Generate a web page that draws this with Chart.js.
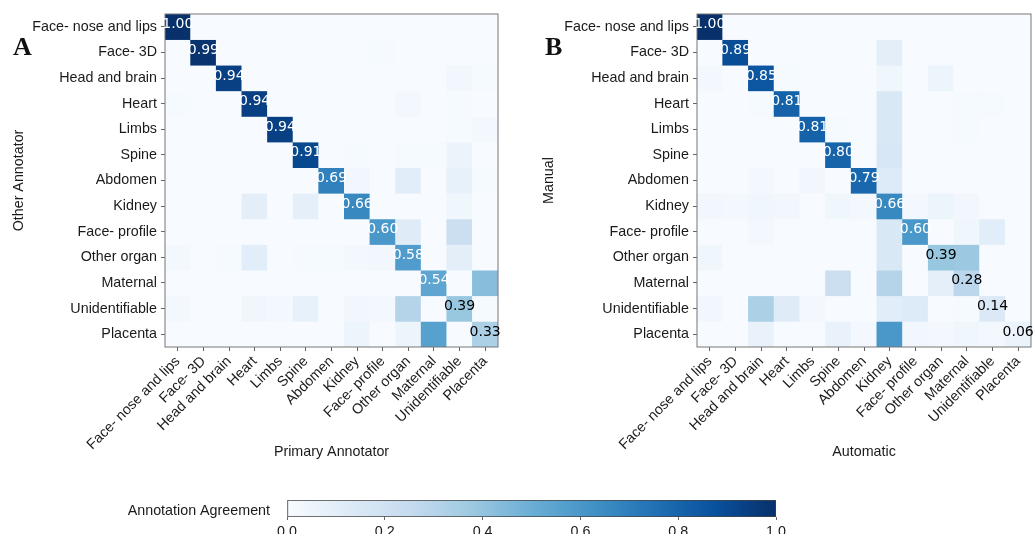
<!DOCTYPE html>
<html>
<head>
<meta charset="utf-8">
<script src="https://cdn.jsdelivr.net/npm/chart.js@4.4.1/dist/chart.umd.min.js"></script>
<style>
  body { margin: 0; background: #fff; width: 1033px; height: 534px; overflow: hidden; position: relative; }
  .panel { position: absolute; }
  .letter { position: absolute; font-family: "Liberation Serif", "Times New Roman", serif; font-weight: bold; font-size: 26px; line-height: 26px; color: #111; }
</style>
</head>
<body>
<div class="panel" style="left:0;top:0"><canvas id="chartA" width="515" height="470"></canvas></div>
<div class="panel" style="left:530px;top:0"><canvas id="chartB" width="503" height="470"></canvas></div>
<div class="panel" style="left:100px;top:490px"><canvas id="colorbar" width="700" height="44"></canvas></div>
<div class="letter" style="left:13px;top:34px">A</div>
<div class="letter" style="left:545px;top:34px">B</div>

<script>
// categories (same for rows and columns)
var LABELS = ['Face- nose and lips', 'Face- 3D', 'Head and brain', 'Heart', 'Limbs', 'Spine',
    'Abdomen', 'Kidney', 'Face- profile', 'Other organ', 'Maternal', 'Unidentifiable', 'Placenta'];

// A: rows = Other Annotator, columns = Primary Annotator
var matrixA = [
    [1.00, 0, 0, 0, 0, 0, 0, 0, 0, 0, 0, 0, 0],
    [0, 0.99, 0, 0, 0, 0, 0, 0, 0.01, 0, 0, 0, 0],
    [0, 0, 0.94, 0, 0, 0, 0, 0, 0, 0, 0, 0.03, 0.01],
    [0.01, 0, 0, 0.94, 0, 0, 0, 0, 0, 0.02, 0, 0.01, 0],
    [0, 0, 0, 0, 0.94, 0, 0, 0, 0, 0, 0, 0.01, 0.02],
    [0, 0, 0, 0, 0, 0.91, 0, 0.01, 0, 0.01, 0.01, 0.06, 0],
    [0, 0, 0, 0, 0, 0, 0.69, 0.03, 0, 0.11, 0, 0.08, 0.01],
    [0, 0, 0, 0.10, 0, 0.09, 0, 0.66, 0, 0, 0, 0.04, 0],
    [0, 0, 0, 0, 0, 0, 0, 0, 0.60, 0.12, 0, 0.22, 0],
    [0.02, 0, 0.01, 0.11, 0, 0.01, 0.01, 0.02, 0.03, 0.58, 0, 0.10, 0],
    [0, 0, 0, 0, 0, 0, 0, 0, 0, 0, 0.54, 0, 0.43],
    [0.02, 0, 0, 0.04, 0.02, 0.08, 0, 0.03, 0.02, 0.30, 0, 0.39, 0.01],
    [0, 0, 0, 0, 0, 0, 0, 0.05, 0, 0.05, 0.56, 0, 0.33]
];

// B: rows = Manual, columns = Automatic
var matrixB = [
    [1.00, 0, 0, 0, 0, 0, 0, 0, 0, 0, 0, 0, 0],
    [0, 0.89, 0, 0, 0, 0, 0, 0.10, 0, 0, 0, 0, 0],
    [0.02, 0, 0.85, 0.01, 0, 0, 0, 0.04, 0, 0.05, 0, 0, 0],
    [0, 0, 0.01, 0.81, 0, 0, 0, 0.15, 0, 0, 0.01, 0.01, 0],
    [0, 0, 0, 0, 0.81, 0.01, 0, 0.15, 0, 0, 0.01, 0, 0],
    [0, 0, 0, 0, 0, 0.80, 0, 0.16, 0, 0, 0, 0, 0],
    [0, 0, 0.02, 0, 0.03, 0, 0.79, 0.13, 0, 0, 0, 0, 0],
    [0.03, 0.02, 0.04, 0.03, 0, 0.04, 0.02, 0.66, 0.02, 0.05, 0.03, 0, 0],
    [0, 0, 0.02, 0, 0, 0, 0, 0.15, 0.60, 0, 0.04, 0.11, 0],
    [0.04, 0, 0, 0, 0, 0, 0, 0.15, 0, 0.39, 0.38, 0, 0],
    [0, 0, 0, 0, 0, 0.22, 0, 0.30, 0, 0.09, 0.28, 0, 0],
    [0.03, 0, 0.33, 0.12, 0.02, 0, 0, 0.11, 0.13, 0, 0.01, 0.14, 0],
    [0, 0, 0.07, 0, 0, 0.07, 0.02, 0.60, 0.03, 0.02, 0.04, 0.02, 0.06]
];

// colorbar ticks
var CB_TICKS = [0, 0.2, 0.4, 0.6, 0.8, 1.0];

// matplotlib "Blues"
var BLUES = ['#f7fbff', '#deebf7', '#c6dbef', '#9ecae1', '#6baed6', '#4292c6', '#2171b5', '#08519c', '#08306b'];

function hexToRgb(h) {
    return [parseInt(h.substr(1, 2), 16), parseInt(h.substr(3, 2), 16), parseInt(h.substr(5, 2), 16)];
}

function blues(v) {
    var t = Math.max(0, Math.min(1, v)) * (BLUES.length - 1);
    var i = Math.min(Math.floor(t), BLUES.length - 2);
    var f = t - i;
    var a = hexToRgb(BLUES[i]), b = hexToRgb(BLUES[i + 1]);
    return 'rgb(' + Math.round(a[0] + (b[0] - a[0]) * f) + ',' +
        Math.round(a[1] + (b[1] - a[1]) * f) + ',' +
        Math.round(a[2] + (b[2] - a[2]) * f) + ')';
}

var FONT = '"Liberation Sans", Arial, sans-serif';
var TEXT = '#1a1a1a';
var TICK = '#666';

Chart.defaults.font.family = FONT;
Chart.defaults.font.size = 14.3;
Chart.defaults.color = TEXT;

// background, frame and diagonal values
var matrixPlugin = {
    id: 'matrixCells',
    beforeDatasetsDraw: function (chart) {
        var a = chart.chartArea, ctx = chart.ctx;
        ctx.save();
        ctx.fillStyle = BLUES[0];
        ctx.fillRect(a.left, a.top, a.right - a.left, a.bottom - a.top);
        ctx.restore();
    },
    afterDatasetsDraw: function (chart) {
        var a = chart.chartArea, ctx = chart.ctx;
        ctx.save();
        ctx.strokeStyle = '#777';
        ctx.lineWidth = 1;
        ctx.strokeRect(a.left, a.top, a.right - a.left, a.bottom - a.top);

        ctx.font = '14px "DejaVu Sans", sans-serif';
        ctx.textAlign = 'center';
        ctx.textBaseline = 'alphabetic';
        chart.data.datasets.forEach(function (ds, r) {
            var v = ds.values[r];
            var bar = chart.getDatasetMeta(r).data[r];
            ctx.fillStyle = v > 0.5 ? '#ffffff' : '#000000';
            ctx.fillText(v.toFixed(2), bar.x, (bar.y + bar.base) / 2 + 1.5);
        });
        ctx.restore();
    }
};

function makeMatrix(id, matrix, xTitle, yTitle, axisWidth, padRight) {
    var datasets = matrix.map(function (row, r) {
        return {
            label: LABELS[r],
            data: row.map(function () { return [r - 0.5, r + 0.5]; }),
            values: row,
            backgroundColor: row.map(blues),
            borderWidth: 0,
            barPercentage: 1,
            categoryPercentage: 1,
            grouped: false
        };
    });

    return new Chart(document.getElementById(id), {
        type: 'bar',
        data: { labels: LABELS, datasets: datasets },
        options: {
            responsive: false,
            animation: false,
            layout: { padding: { left: 0, top: 14, right: padRight, bottom: 0 } },
            plugins: { legend: { display: false }, tooltip: { enabled: false } },
            scales: {
                x: {
                    type: 'category',
                    offset: true,
                    ticks: { minRotation: 45, maxRotation: 45, autoSkip: false, padding: 2, color: TEXT },
                    grid: { offset: false, drawOnChartArea: false, tickLength: 4, color: TICK },
                    border: { display: false },
                    title: { display: true, text: xTitle, color: TEXT, padding: { top: 4, bottom: 9 } },
                    afterFit: function (s) { s.height = 123; }
                },
                y: {
                    type: 'linear',
                    min: -0.5,
                    max: 12.5,
                    reverse: true,
                    afterBuildTicks: function (s) {
                        s.ticks = LABELS.map(function (l, i) { return { value: i }; });
                    },
                    ticks: {
                        padding: 4,
                        color: TEXT,
                        callback: function (v) { return LABELS[v]; }
                    },
                    grid: { drawOnChartArea: false, tickLength: 4, color: TICK },
                    border: { display: false },
                    title: { display: true, text: yTitle, color: TEXT, padding: { top: 10 } },
                    afterFit: function (s) { s.width = axisWidth; }
                }
            }
        },
        plugins: [matrixPlugin]
    });
}

makeMatrix('chartA', matrixA, 'Primary Annotator', 'Other Annotator', 165, 17);
makeMatrix('chartB', matrixB, 'Automatic', 'Manual', 167, 2);

// colorbar
new Chart(document.getElementById('colorbar'), {
    type: 'bar',
    data: {
        labels: ['Annotation Agreement'],
        datasets: [{
            data: [[CB_TICKS[0], CB_TICKS[CB_TICKS.length - 1]]],
            backgroundColor: function (c) {
                var a = c.chart.chartArea;
                if (!a) return BLUES[0];
                var g = c.chart.ctx.createLinearGradient(a.left, 0, a.right, 0);
                BLUES.forEach(function (col, i) { g.addColorStop(i / (BLUES.length - 1), col); });
                return g;
            },
            borderColor: '#444',
            borderWidth: 1,
            borderSkipped: false,
            barPercentage: 1,
            categoryPercentage: 1
        }]
    },
    options: {
        indexAxis: 'y',
        responsive: false,
        animation: false,
        layout: { padding: { left: 0, top: 10, right: 24, bottom: 0 } },
        plugins: { legend: { display: false }, tooltip: { enabled: false } },
        scales: {
            x: {
                type: 'linear',
                min: 0,
                max: 1,
                afterBuildTicks: function (s) {
                    s.ticks = CB_TICKS.map(function (v) { return { value: v }; });
                },
                ticks: { padding: 3, color: TEXT, callback: function (v) { return v.toFixed(1); } },
                grid: { drawOnChartArea: false, tickLength: 3, color: TICK },
                border: { display: false },
                afterFit: function (s) { s.height = 17; }
            },
            y: {
                // label gap comes from an invisible tick mark so that the layout padding stays small
                ticks: { padding: 0, labelOffset: 3, color: TEXT },
                grid: { drawOnChartArea: false, drawTicks: true, tickLength: 17, color: 'rgba(0,0,0,0)' },
                border: { display: false },
                afterFit: function (s) { s.width = 187; }
            }
        }
    }
});
</script>
</body>
</html>
